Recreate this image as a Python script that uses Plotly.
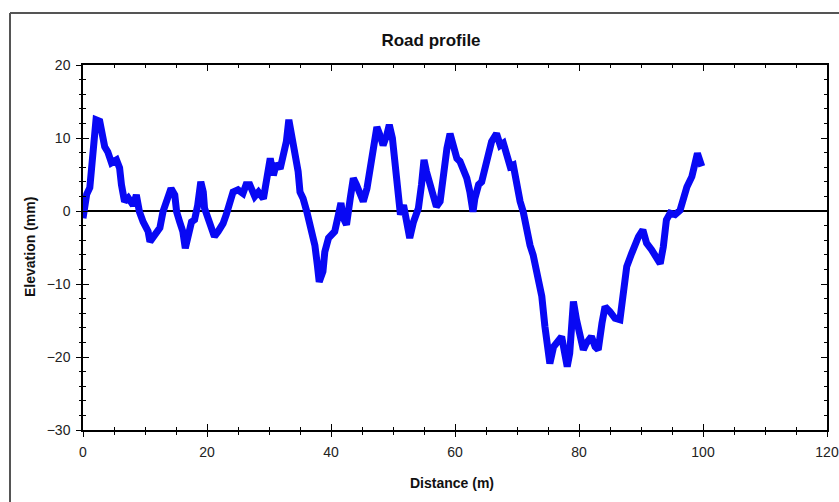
import plotly.graph_objects as go

# Road profile data (distance in m, elevation in mm)
distance = [0.0, 0.3, 0.6, 1.1, 1.6, 2.1, 2.7, 3.1, 3.5, 4.0, 4.6, 5.4, 5.9, 6.2, 6.7, 7.3, 8.1, 8.6, 9.1, 9.7,
            10.5, 10.8, 11.6, 12.4, 12.9, 13.4, 14.2, 14.8, 15.1, 15.6, 16.1, 16.5, 16.9, 17.5, 18.0, 18.5, 19.0, 19.4, 19.6,
            20.2, 20.7, 21.2, 21.8, 22.6, 23.1, 23.7, 24.2, 25.0, 25.8, 26.3, 26.9, 27.7, 28.3, 29.1, 29.6,
            30.2, 30.7, 31.2, 31.8, 32.3, 32.8, 33.2, 33.7, 34.2, 34.7, 35.0, 35.5, 36.1, 36.6, 37.1, 37.4, 37.8, 38.1, 38.7, 39.0, 39.6,
            40.1, 40.6, 41.2, 41.6, 42.0, 42.5, 43.1, 43.6, 44.1, 44.7, 45.2, 45.8, 46.3, 46.8, 47.4, 47.9, 48.4, 49.0, 49.4, 49.9,
            50.3, 50.9, 51.2, 51.7, 52.2, 52.7, 53.3, 54.1, 54.6, 55.0, 55.4, 56.0, 56.5, 57.0, 57.6, 58.1, 58.7, 59.2, 59.7,
            60.3, 60.8, 61.3, 61.9, 62.4, 62.9, 63.2, 63.8, 64.3, 64.8, 65.4, 65.9, 66.7, 67.3, 67.8, 68.3, 68.9, 69.4, 69.9,
            70.5, 71.0, 71.6, 72.1, 72.6, 73.2, 74.0, 74.5, 75.0, 75.3, 75.9, 76.7, 77.2, 77.7, 78.1, 78.5, 79.1, 79.6,
            80.2, 80.7, 81.2, 82.0, 82.6, 83.1, 83.7, 84.2, 85.0, 85.8, 86.6, 87.1, 87.7, 88.5, 89.0, 89.6,
            90.3, 90.9, 91.7, 92.5, 93.1, 93.6, 94.1, 94.7, 95.5, 96.3, 96.8, 97.4, 98.2, 98.7, 99.1, 99.8]
elevation = [-1.0, 1.0, 2.3, 3.2, 8.6, 12.5, 12.3, 10.0, 8.8, 8.1, 6.6, 7.0, 5.9, 3.6, 1.3, 1.8, 0.8, 2.2, -0.1, -1.5,
             -2.8, -4.2, -3.3, -2.3, -0.1, 1.3, 3.1, 2.2, -0.1, -1.5, -2.8, -5.1, -3.7, -1.5, -1.2, 0.8, 4.0, 2.6, 0.4,
             -1.0, -1.9, -3.5, -2.8, -1.7, -0.5, 1.5, 2.6, 2.9, 2.4, 3.6, 3.6, 2.0, 2.6, 1.7, 3.8,
             7.2, 4.9, 6.5, 5.8, 7.4, 9.5, 12.5, 10.4, 8.1, 5.4, 2.6, 1.7, -0.1, -1.9, -2.8, -4.7, -7.4, -9.7, -8.3, -5.6, -3.7,
             -3.3, -2.8, -0.5, 1.1, -1.0, -1.9, 1.7, 4.5, 3.6, 2.2, 1.3, 3.1, 5.4, 8.6, 11.5, 10.4, 9.0, 10.4, 11.8, 10.0,
             6.3, 3.1, -0.5, 0.8, -1.2, -3.7, -1.5, 0.4, 3.6, 7.0, 5.4, 3.6, 2.2, 0.6, 1.3, 5.4, 8.6, 10.6, 9.0,
             7.2, 6.8, 5.8, 4.5, 2.6, -0.1, 1.7, 3.6, 4.0, 5.8, 7.7, 9.5, 10.6, 9.0, 9.3, 7.7, 6.1, 6.3, 3.6,
             1.3, -0.1, -2.8, -4.7, -6.0, -8.5, -11.7, -15.8, -19.5, -20.9, -18.6, -17.7, -17.2, -19.5, -21.3, -19.5, -12.4, -14.9,
             -17.7, -19.0, -18.1, -17.2, -18.6, -19.0, -15.4, -13.1, -13.8, -14.7, -14.9, -11.7, -7.6, -5.8, -4.4, -3.5,
             -2.6, -4.4, -5.3, -6.3, -7.2, -4.9, -1.2, -0.3, -0.5, 0.1, 2.0, 3.3, 4.7, 7.0, 7.9, 6.1]

x_range = [0, 120]
y_range = [-30, 20]
x_ticks = [0, 20, 40, 60, 80, 100, 120]
y_ticks = [-30, -20, -10, 0, 10, 20]

title_text = "Road profile"
x_title = "Distance (m)"
y_title = "Elevation (mm)"

W, H = 839, 502
L, R, T, B = 83, 12, 65, 72
pw, ph = W - L - R, H - T - B

FONT = "Liberation Sans, Arial, sans-serif"

fig = go.Figure()
fig.add_trace(go.Scatter(
    x=distance, y=elevation, mode="lines",
    line=dict(color="#0808f4", width=7),
    showlegend=False, hoverinfo="x+y",
))
# empty trace so the overlay axes (outer tick halves) get drawn
fig.add_trace(go.Scatter(x=[], y=[], xaxis="x2", yaxis="y2", showlegend=False, hoverinfo="skip"))

axis_common = dict(showgrid=False, showline=True, linecolor="black", linewidth=1.5,
                   tickcolor="black", tickwidth=1.3, automargin=False,
                   tickfont=dict(family=FONT, size=14, color="#222"))

fig.update_layout(
    width=W, height=H,
    margin=dict(l=L, r=R, t=T, b=B, pad=0, autoexpand=False),
    paper_bgcolor="white", plot_bgcolor="white",
    xaxis=dict(range=x_range, tickvals=x_ticks, ticks="inside", ticklen=6, mirror="ticks",
               minor=dict(dtick=5, ticks="inside", ticklen=3.5, tickcolor="black", tickwidth=1.2),
               zeroline=False, ticklabelstandoff=8, **axis_common),
    yaxis=dict(range=y_range, tickvals=y_ticks, ticks="inside", ticklen=6, mirror="ticks",
               minor=dict(dtick=2, ticks="inside", ticklen=3.5, tickcolor="black", tickwidth=1.2),
               zeroline=True, zerolinecolor="black", zerolinewidth=1.8,
               ticklabelstandoff=8, **axis_common),
    xaxis2=dict(overlaying="x", side="bottom", range=x_range, tickvals=x_ticks, ticks="outside", ticklen=6,
                showticklabels=False, showgrid=False, showline=False, zeroline=False, automargin=False,
                tickcolor="black", tickwidth=1.3,
                minor=dict(dtick=5, ticks="outside", ticklen=3.5, tickcolor="black", tickwidth=1.2)),
    yaxis2=dict(overlaying="y", side="left", range=y_range, tickvals=y_ticks, ticks="outside", ticklen=6,
                showticklabels=False, showgrid=False, showline=False, zeroline=False, automargin=False,
                tickcolor="black", tickwidth=1.3,
                minor=dict(dtick=2, ticks="outside", ticklen=3.5, tickcolor="black", tickwidth=1.2)),
    title=dict(text="<b>" + title_text + "</b>", x=431 / W, xref="container",
               y=1 - 40 / H, yref="container", xanchor="center", yanchor="middle",
               font=dict(family=FONT, size=17, color="#111")),
    annotations=[
        dict(text="<b>" + x_title + "</b>", xref="paper", yref="paper",
             x=(452 - L) / pw, y=(H - B - 483) / ph, showarrow=False,
             xanchor="center", yanchor="middle", font=dict(family=FONT, size=14, color="#111")),
        dict(text="<b>" + y_title + "</b>", xref="paper", yref="paper",
             x=(30 - L) / pw, y=(H - B - 247) / ph, showarrow=False, textangle=-90,
             xanchor="center", yanchor="middle", font=dict(family=FONT, size=14, color="#111")),
    ],
    shapes=[
        dict(type="line", xref="paper", yref="paper", x0=(10 - L) / pw, x1=(10 - L) / pw,
             y0=(H - B - 13) / ph, y1=(H - B - 510) / ph, line=dict(color="#555", width=2)),
        dict(type="line", xref="paper", yref="paper", x0=(10 - L) / pw, x1=(850 - L) / pw,
             y0=(H - B - 13) / ph, y1=(H - B - 13) / ph, line=dict(color="#555", width=2)),
    ],
)

fig.write_html("out.html")
